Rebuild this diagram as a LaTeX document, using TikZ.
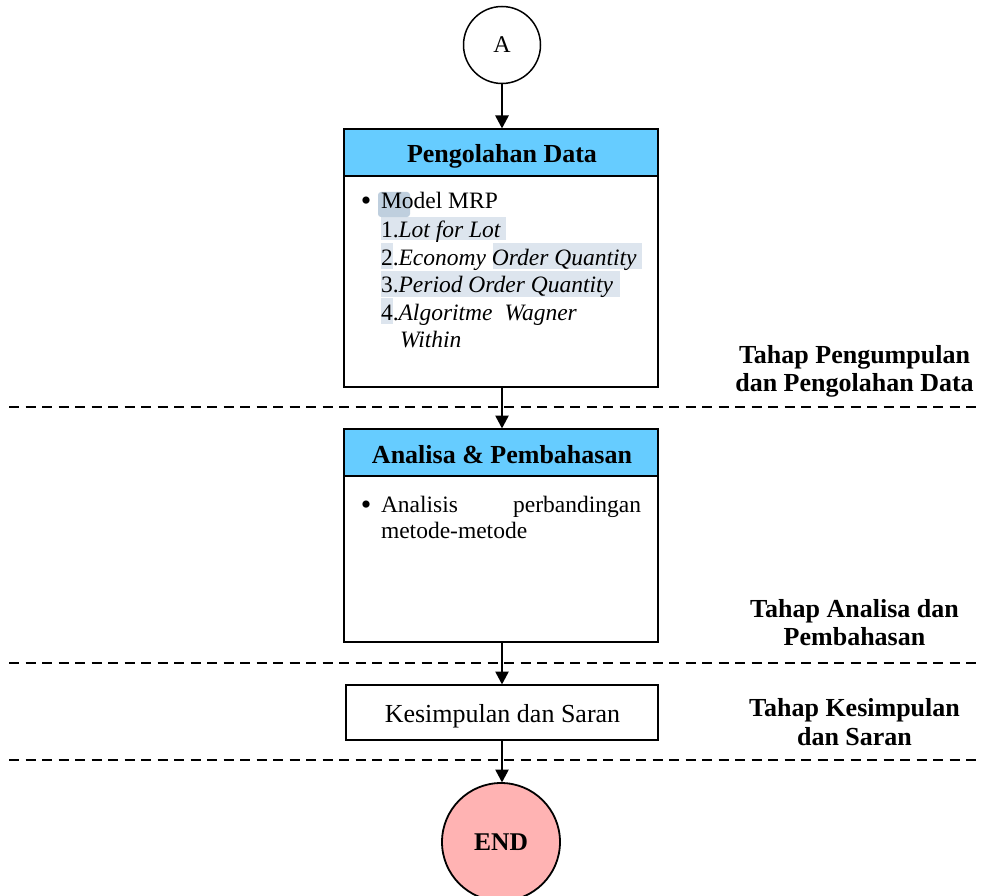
\documentclass[tikz,border=0pt]{standalone}
\usepackage{fontspec}
\setmainfont{Liberation Serif}
\usetikzlibrary{arrows.meta}
\definecolor{hdr}{HTML}{66CCFF}
\definecolor{endc}{HTML}{FFB3B3}
\definecolor{hl}{HTML}{DDE5EE}
\definecolor{badgec}{HTML}{BFCFDE}
\begin{document}
\begin{tikzpicture}[x=1pt,y=-1pt,
  every node/.style={inner sep=0pt, outer sep=0pt},
  body/.style={draw=black, line width=1.8pt, fill=white, minimum width=314pt, anchor=north},
  head/.style={draw=black, line width=1.8pt, fill=hdr, minimum width=314pt, minimum height=47pt, anchor=north},
  reg/.style={font=\fontsize{23.5}{28}\selectfont},
  bld/.style={font=\fontsize{26}{28}\selectfont\bfseries},
  bul/.style={font=\fontsize{30}{30}\selectfont, anchor=base},
  arr/.style={line width=2.6pt, -{Triangle[length=13pt,width=13pt]}, shorten >=0.5pt},
  sep/.style={line width=1.8pt, dash pattern=on 10pt off 6.5pt},
  circ/.style={circle, draw=black}
]
\useasboundingbox (0,0) rectangle (982,896);

% start circle
\node[circ, line width=1.5pt, minimum size=77pt, fill=white, font=\fontsize{24}{28}\selectfont] (A) at (502,45) {A};

% box 1
\node[body, minimum height=258pt] (b1) at (501,129) {};
\node[head] (b1h) at (501,129) {};
\node[bld, anchor=base] (t1) at (502,163) {Pengolahan Data};

% highlights
\fill[hl] (381,217) rectangle (506,240);
\fill[hl] (381,243) rectangle (393,269);
\fill[hl] (493,243) rectangle (642,269);
\fill[hl] (381,271) rectangle (620,297);
\fill[hl] (381,298) rectangle (393,324);
\fill[badgec, rounded corners=3pt] (378,192) rectangle (410,217);

\node[bul] (bu1) at (366,211) {•};
\node[reg, anchor=base west] (m0) at (381,208) {Model MRP};
\node[reg, anchor=base west] (m1) at (381,237) {1.\textit{Lot for Lot}};
\node[reg, anchor=base west] (m2) at (381,265) {2.\textit{Economy Order Quantity}};
\node[reg, anchor=base west] (m3) at (381,292) {3.\textit{Period Order Quantity}};
\node[reg, anchor=base west] (m4) at (381,320) {4.\textit{Algoritme\hspace{12pt}Wagner}};
\node[reg, anchor=base west] (m5) at (400,347) {\textit{Within}};

% box 2
\node[body, minimum height=213pt] (b2) at (501,429) {};
\node[head] (b2h) at (501,429) {};
\node[bld, anchor=base] (t2) at (502,463) {Analisa \& Pembahasan};
\node[bul] (bu2) at (366,514) {•};
\node[reg, anchor=base west] (a1) at (381,512) {\makebox[260pt][l]{Analisis\hfill perbandingan}};
\node[reg, anchor=base west] (a2) at (381,538) {metode-metode};

% box 3
\node[body, anchor=center, minimum width=312pt, minimum height=55pt] (b3) at (502,712.5) {};
\node[font=\fontsize{26}{28}\selectfont, anchor=base] (t3) at (502.5,722) {Kesimpulan dan Saran};

% end circle
\node[circ, line width=1.8pt, minimum size=118pt, fill=endc, font=\fontsize{25.5}{28}\selectfont\bfseries] (E) at (501,842) {END};

% separators
\coordinate (s1l) at (9,407);  \coordinate (s1r) at (982,407);
\coordinate (s2l) at (9,663);  \coordinate (s2r) at (982,663);
\coordinate (s3l) at (9,760);  \coordinate (s3r) at (982,760);
\draw[sep] (s1l) -- (s1r);
\draw[sep] (s2l) -- (s2r);
\draw[sep] (s3l) -- (s3r);

% connectors
\draw[arr] (A.south) -- (A.south |- b1h.north);
\draw[arr] (b1.south -| b3.center) -- (b2h.north -| b3.center);
\draw[arr] (b2.south -| b3.center) -- (b3.north);
\draw[arr] (b3.south) -- (b3.south |- E.north);

% stage labels
\node[bld, anchor=base] (r1a) at (854.5,363) {Tahap Pengumpulan};
\node[bld, anchor=base] (r1b) at (854.5,391) {dan Pengolahan Data};
\node[bld, anchor=base] (r2a) at (854.5,617) {Tahap Analisa dan};
\node[bld, anchor=base] (r2b) at (854.5,645) {Pembahasan};
\node[bld, anchor=base] (r3a) at (854.5,716) {Tahap Kesimpulan};
\node[bld, anchor=base] (r3b) at (854.5,745) {dan Saran};
\end{tikzpicture}
\end{document}
